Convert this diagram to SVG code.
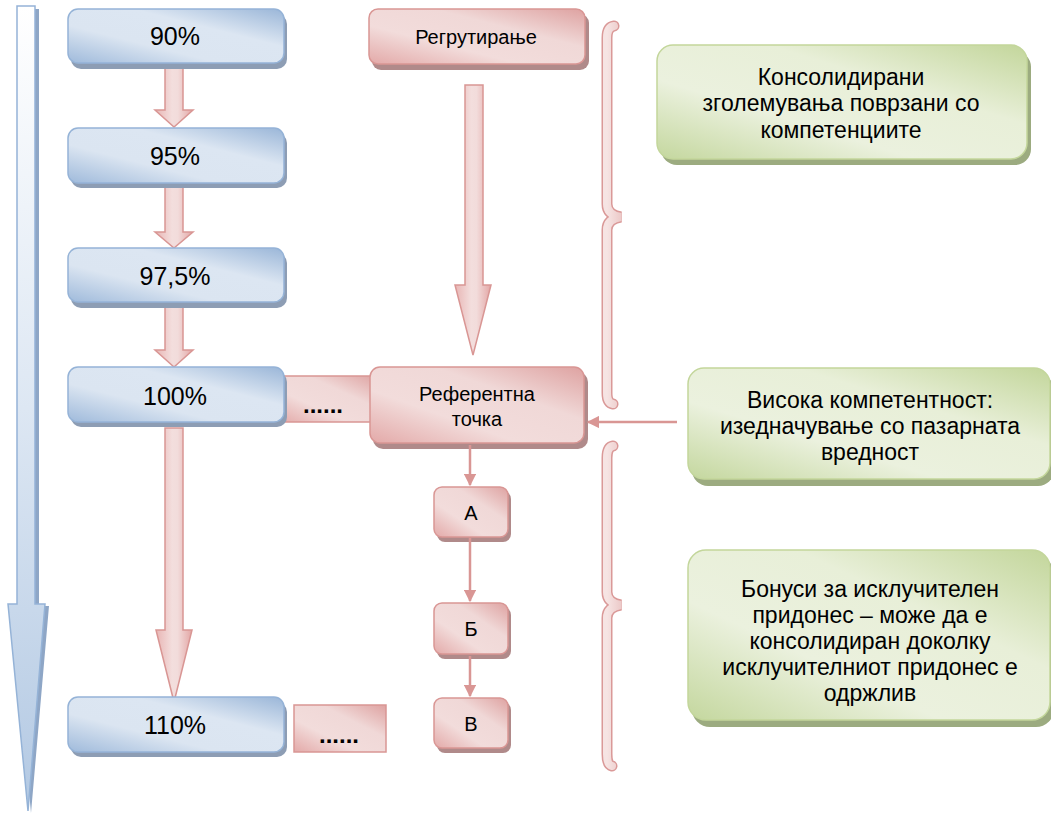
<svg xmlns="http://www.w3.org/2000/svg" width="1051" height="814" viewBox="0 0 1051 814">
<defs>
<linearGradient id="gBlue" x1="0" y1="1" x2="1" y2="0">
<stop offset="0" stop-color="#9fbadb"/><stop offset="0.35" stop-color="#dbe5f1"/><stop offset="0.65" stop-color="#dce6f2"/><stop offset="1" stop-color="#9ab6d8"/>
</linearGradient>
<linearGradient id="gRed" x1="0" y1="1" x2="1" y2="0">
<stop offset="0" stop-color="#e3a9a8"/><stop offset="0.35" stop-color="#f2dcdb"/><stop offset="0.65" stop-color="#f0d8d7"/><stop offset="1" stop-color="#dea2a1"/>
</linearGradient>
<linearGradient id="gGreen" x1="0" y1="1" x2="1" y2="0">
<stop offset="0" stop-color="#c4d79e"/><stop offset="0.35" stop-color="#ebf1de"/><stop offset="0.65" stop-color="#e8efd8"/><stop offset="1" stop-color="#c3d69b"/>
</linearGradient>
<linearGradient id="gArrowR" x1="0" y1="0" x2="1" y2="0">
<stop offset="0" stop-color="#e8b5b4"/><stop offset="0.45" stop-color="#f3dedd"/><stop offset="0.6" stop-color="#f2dcdb"/><stop offset="1" stop-color="#e3a6a5"/>
</linearGradient>
<linearGradient id="gArrowB" x1="0" y1="0" x2="0" y2="1">
<stop offset="0" stop-color="#ffffff"/><stop offset="0.5" stop-color="#dde7f3"/><stop offset="1" stop-color="#b3c9e3"/>
</linearGradient>
<linearGradient id="gBrace" x1="0" y1="0" x2="1" y2="0">
<stop offset="0" stop-color="#f6e4e3"/><stop offset="1" stop-color="#eccac9"/>
</linearGradient>
<marker id="ah" viewBox="0 0 10 10" refX="9" refY="5" markerWidth="5" markerHeight="5" markerUnits="strokeWidth" orient="auto">
<path d="M0,0 L10,5 L0,10 z" fill="#d99694"/>
</marker>
</defs>
<style>
.bb{fill:url(#gBlue);stroke:#95b3d7;stroke-width:1.5}
.bs{fill:#8d9db4}
.rb{fill:url(#gRed);stroke:#d99694;stroke-width:1.5}
.rs{fill:#b08a8a}
.gb{fill:url(#gGreen);stroke:#c3d69b;stroke-width:1.5}
.gs{fill:#9cab80}
.ra{fill:url(#gArrowR);stroke:#d99694;stroke-width:1.5}
.t{font-family:"Liberation Sans",Arial,sans-serif;fill:#000;text-anchor:middle}
.pc{font-size:25px}
.rt{font-size:20px}
.gt{font-size:23px}
.dots{font-size:24px;font-weight:bold}
.con{stroke:#d99694;stroke-width:2.5;fill:none}
.brO{fill:none;stroke:#da9998;stroke-width:11;stroke-linecap:round}
.brI{fill:none;stroke:url(#gBrace);stroke-width:8;stroke-linecap:round}
</style>

<g id="timeline-arrow">
<polygon points="21,9 39,9 39,606 49,606 31,813 12,606 21,606" fill="#8ea6c6"/>
<polygon points="17,6 35,6 35,604 45,604 28,811 8,604 17,604" fill="url(#gArrowB)" stroke="#95b3d7" stroke-width="1.5"/>
</g>

<g id="block-arrows">
<polygon class="ra" points="165,63 183,63 183,110 193,110 174,127 155,110 165,110"/>
<polygon class="ra" points="165,183 183,183 183,232 193,232 174,248 155,232 165,232"/>
<polygon class="ra" points="165,302 183,302 183,350 193,350 174,367 155,350 165,350"/>
<polygon class="ra" points="165,428 183,428 183,630 192,630 174,702 156,630 165,630"/>
<polygon class="ra" points="465,85 483,85 483,285 491,285 473,355 455,285 465,285"/>
</g>

<g id="node-90">
<rect class="bs" x="71" y="14" width="216" height="55" rx="10"/>
<rect class="bb" x="68" y="9" width="216" height="54" rx="10"/>
<text class="t pc" x="175" y="45">90%</text>
</g>
<g id="node-95">
<rect class="bs" x="71" y="133" width="216" height="55" rx="10"/>
<rect class="bb" x="68" y="128" width="216" height="55" rx="10"/>
<text class="t pc" x="175" y="165">95%</text>
</g>
<g id="node-975">
<rect class="bs" x="71" y="253" width="216" height="55" rx="10"/>
<rect class="bb" x="68" y="248" width="216" height="54" rx="10"/>
<text class="t pc" x="175" y="285">97,5%</text>
</g>

<g id="node-dots1">
<rect class="rb" x="278" y="376" width="100" height="46"/>
<text class="t dots" x="323" y="413">......</text>
</g>

<g id="node-100">
<rect class="bs" x="71" y="372" width="216" height="55" rx="10"/>
<rect class="bb" x="68" y="367" width="216" height="55" rx="10"/>
<text class="t pc" x="175" y="405">100%</text>
</g>
<g id="node-110">
<rect class="bs" x="71" y="702" width="216" height="55" rx="10"/>
<rect class="bb" x="68" y="697" width="216" height="55" rx="10"/>
<text class="t pc" x="175" y="734">110%</text>
</g>
<g id="node-dots2">
<rect class="rb" x="294" y="705" width="92" height="47"/>
<text class="t dots" x="339" y="743">......</text>
</g>

<g id="node-recruit">
<rect class="rs" x="372" y="14" width="217" height="56" rx="9"/>
<rect class="rb" x="369" y="9" width="216" height="55" rx="9"/>
<text class="t rt" x="476" y="44">Регрутирање</text>
</g>

<g id="node-reference">
<rect class="rs" x="373" y="372" width="215" height="77" rx="10"/>
<rect class="rb" x="370" y="367" width="214" height="76" rx="10"/>
<text class="t rt" x="477" y="401">Референтна</text>
<text class="t rt" x="477" y="426">точка</text>
</g>

<g id="node-a">
<rect class="rs" x="437" y="491" width="74" height="51" rx="8"/>
<rect class="rb" x="434" y="487" width="74" height="50" rx="8"/>
<text class="t rt" x="471" y="520">А</text>
</g>
<g id="node-b">
<rect class="rs" x="437" y="607" width="74" height="52" rx="8"/>
<rect class="rb" x="434" y="603" width="74" height="51" rx="8"/>
<text class="t rt" x="471" y="636">Б</text>
</g>
<g id="node-v">
<rect class="rs" x="437" y="702" width="74" height="51" rx="8"/>
<rect class="rb" x="434" y="698" width="74" height="50" rx="8"/>
<text class="t rt" x="471" y="731">В</text>
</g>

<g id="brace-top">
<path class="brO" d="M614,26 Q607,27 607,38 L607,204 Q607,215 621,217 Q607,219 607,230 L607,393 Q607,403 613,404"/>
<path class="brI" d="M614,26 Q607,27 607,38 L607,204 Q607,215 621,217 Q607,219 607,230 L607,393 Q607,403 613,404"/>
</g>
<g id="brace-bottom">
<path class="brO" d="M613,446 Q607,447 607,458 L607,592 Q607,603 621,605 Q607,607 607,618 L607,754 Q607,765 612,766"/>
<path class="brI" d="M613,446 Q607,447 607,458 L607,592 Q607,603 621,605 Q607,607 607,618 L607,754 Q607,765 612,766"/>
</g>

<g id="node-consolidated">
<rect class="gs" x="661" y="51" width="370" height="114" rx="16"/>
<rect class="gb" x="657" y="45" width="370" height="114" rx="16"/>
<text class="t gt" x="841" y="85">Консолидирани</text>
<text class="t gt" x="841" y="111">зголемувања поврзани со</text>
<text class="t gt" x="841" y="138">компетенциите</text>
</g>
<g id="node-high">
<rect class="gs" x="692" y="374" width="362" height="112" rx="16"/>
<rect class="gb" x="688" y="368" width="362" height="111" rx="16"/>
<text class="t gt" x="870" y="408">Висока компетентност:</text>
<text class="t gt" x="870" y="434">изедначување со пазарната</text>
<text class="t gt" x="870" y="460">вредност</text>
</g>
<g id="node-bonus">
<rect class="gs" x="692" y="556" width="362" height="171" rx="18"/>
<rect class="gb" x="688" y="550" width="362" height="170" rx="18"/>
<text class="t gt" x="870" y="597">Бонуси за исклучителен</text>
<text class="t gt" x="870" y="623">придонес – може да е</text>
<text class="t gt" x="870" y="649">консолидиран доколку</text>
<text class="t gt" x="870" y="675">исклучителниот придонес е</text>
<text class="t gt" x="870" y="701">одржлив</text>
</g>

<g id="connectors">
<line class="con" x1="470" y1="445" x2="470" y2="485" marker-end="url(#ah)"/>
<line class="con" x1="470" y1="538" x2="470" y2="601" marker-end="url(#ah)"/>
<line class="con" x1="470" y1="656" x2="470" y2="696" marker-end="url(#ah)"/>
<line class="con" x1="677" y1="422" x2="588" y2="422" marker-end="url(#ah)"/>
</g>
</svg>
